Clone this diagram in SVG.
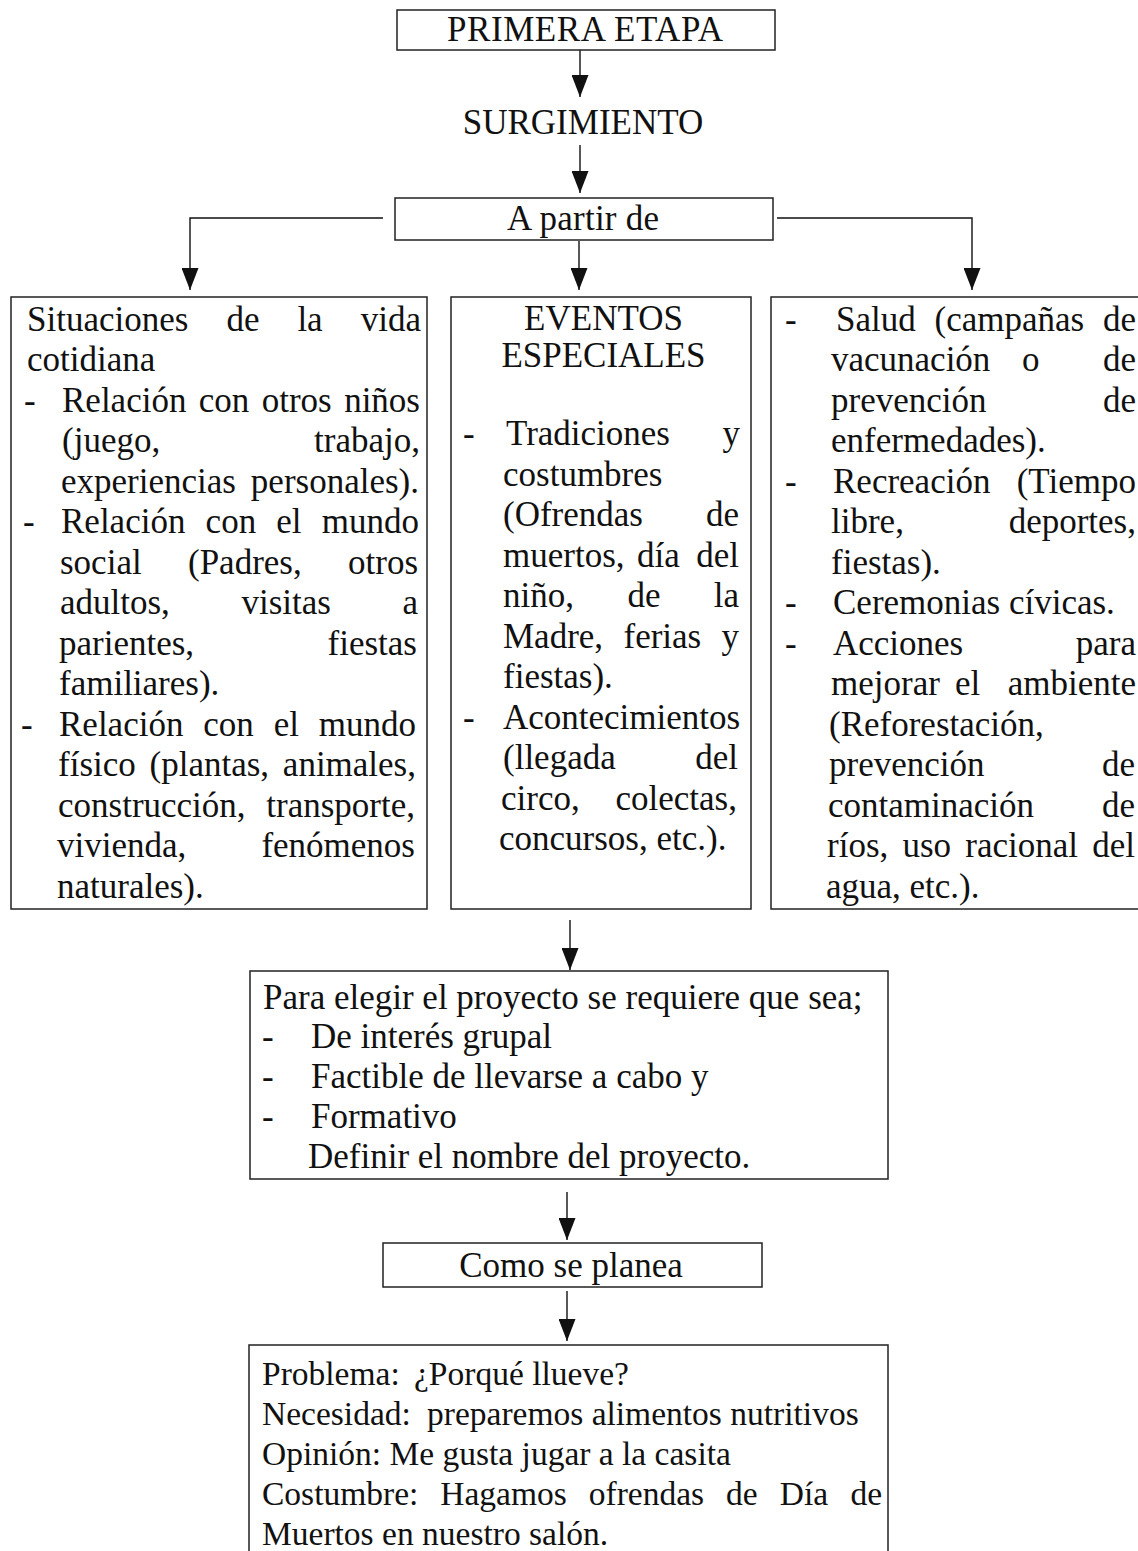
<svg xmlns="http://www.w3.org/2000/svg" width="1138" height="1551" viewBox="0 0 1138 1551">
<style>
.t{font-family:"Liberation Serif","Times New Roman",serif;font-size:35px;fill:#111}
.s{font-size:33.5px}
.m{text-anchor:middle}
.e{text-anchor:end}
.box{fill:none;stroke:#222;stroke-width:1.5}
.c{fill:none;stroke:#111;stroke-width:1.4;marker-end:url(#ah)}
</style>
<defs>
<marker id="ah" viewBox="0 0 22 17" refX="22" refY="8.5" markerWidth="22" markerHeight="17" markerUnits="userSpaceOnUse" orient="auto">
<path d="M0,0 L22,8.5 L0,17 z" fill="#111"/>
</marker>
</defs>
<rect x="0" y="0" width="1138" height="1551" fill="#fff"/>

<g id="connectors">
<path class="c" d="M580,50 V97"/>
<path class="c" d="M580,145 V193"/>
<path class="c" d="M383,218 H190 V290"/>
<path class="c" d="M579,241 V290"/>
<path class="c" d="M777,218 H972 V290"/>
<path class="c" d="M570,920 V970"/>
<path class="c" d="M567,1192 V1240"/>
<path class="c" d="M567,1291 V1341"/>
</g>

<g id="primera-etapa">
<rect class="box" x="397" y="10" width="378" height="40"/>
<text class="t m" x="585" y="41" textLength="276" lengthAdjust="spacing">PRIMERA ETAPA</text>
</g>

<g id="surgimiento">
<text class="t m" x="583" y="134">SURGIMIENTO</text>
</g>

<g id="a-partir-de">
<rect class="box" x="395" y="198" width="378" height="42"/>
<text class="t m" x="583" y="230" textLength="152" lengthAdjust="spacing">A partir de</text>
</g>

<g id="vida-cotidiana">
<rect class="box" x="11" y="297" width="416" height="612"/>
<text class="t" y="330.5"><tspan x="27">Situaciones</tspan><tspan x="226.4">de</tspan><tspan x="297.4">la</tspan><tspan x="421" class="e">vida</tspan></text>
<text class="t" y="371" x="27">cotidiana</text>
<text class="t" y="411.5"><tspan x="24">-</tspan><tspan x="62">Relación</tspan><tspan x="198.8">con</tspan><tspan x="261.7">otros</tspan><tspan x="420" class="e">niños</tspan></text>
<text class="t" y="452"><tspan x="62">(juego,</tspan><tspan x="420" class="e">trabajo,</tspan></text>
<text class="t" y="492.5"><tspan x="61">experiencias</tspan><tspan x="419" class="e">personales).</tspan></text>
<text class="t" y="533"><tspan x="23">-</tspan><tspan x="61">Relación</tspan><tspan x="205.6">con</tspan><tspan x="276.3">el</tspan><tspan x="419" class="e">mundo</tspan></text>
<text class="t" y="573.5"><tspan x="60">social</tspan><tspan x="188">(Padres,</tspan><tspan x="418" class="e">otros</tspan></text>
<text class="t" y="614"><tspan x="60">adultos,</tspan><tspan x="241.5">visitas</tspan><tspan x="418" class="e">a</tspan></text>
<text class="t" y="654.5"><tspan x="59">parientes,</tspan><tspan x="417" class="e">fiestas</tspan></text>
<text class="t" y="695" x="59">familiares).</text>
<text class="t" y="735.5"><tspan x="21">-</tspan><tspan x="59">Relación</tspan><tspan x="203.3">con</tspan><tspan x="273.7">el</tspan><tspan x="416" class="e">mundo</tspan></text>
<text class="t" y="776"><tspan x="58">físico</tspan><tspan x="149.5">(plantas,</tspan><tspan x="416" class="e">animales,</tspan></text>
<text class="t" y="816.5"><tspan x="58">construcción,</tspan><tspan x="415" class="e">transporte,</tspan></text>
<text class="t" y="857"><tspan x="57">vivienda,</tspan><tspan x="415" class="e">fenómenos</tspan></text>
<text class="t" y="897.5" x="57">naturales).</text>
</g>

<g id="eventos-especiales">
<rect class="box" x="451" y="297" width="300" height="612"/>
<text class="t m" x="603.5" y="329.5">EVENTOS</text>
<text class="t m" x="603.5" y="367">ESPECIALES</text>
<text class="t" y="445"><tspan x="463">-</tspan><tspan x="506">Tradiciones</tspan><tspan x="740" class="e">y</tspan></text>
<text class="t" y="485.5" x="503">costumbres</text>
<text class="t" y="526"><tspan x="503">(Ofrendas</tspan><tspan x="739" class="e">de</tspan></text>
<text class="t" y="566.5"><tspan x="503">muertos,</tspan><tspan x="637">día</tspan><tspan x="739" class="e">del</tspan></text>
<text class="t" y="607"><tspan x="503">niño,</tspan><tspan x="627.4">de</tspan><tspan x="739" class="e">la</tspan></text>
<text class="t" y="647.5"><tspan x="503">Madre,</tspan><tspan x="623.5">ferias</tspan><tspan x="739" class="e">y</tspan></text>
<text class="t" y="688" x="503">fiestas).</text>
<text class="t" y="728.5"><tspan x="463">-</tspan><tspan x="503">Acontecimientos</tspan></text>
<text class="t" y="769"><tspan x="503">(llegada</tspan><tspan x="738" class="e">del</tspan></text>
<text class="t" y="809.5"><tspan x="501">circo,</tspan><tspan x="737" class="e">colectas,</tspan></text>
<text class="t" y="850" x="499">concursos, etc.).</text>
</g>

<g id="otros-eventos">
<rect class="box" x="771" y="297" width="380" height="612"/>
<text class="t" y="330.5"><tspan x="785">-</tspan><tspan x="836">Salud</tspan><tspan x="934.5">(campañas</tspan><tspan x="1136" class="e">de</tspan></text>
<text class="t" y="371"><tspan x="831">vacunación</tspan><tspan x="1022">o</tspan><tspan x="1136" class="e">de</tspan></text>
<text class="t" y="411.5"><tspan x="831">prevención</tspan><tspan x="1136" class="e">de</tspan></text>
<text class="t" y="452" x="831">enfermedades).</text>
<text class="t" y="492.5"><tspan x="785">-</tspan><tspan x="833">Recreación</tspan><tspan x="1136" class="e">(Tiempo</tspan></text>
<text class="t" y="533"><tspan x="831">libre,</tspan><tspan x="1136" class="e">deportes,</tspan></text>
<text class="t" y="573.5" x="831">fiestas).</text>
<text class="t" y="614"><tspan x="785">-</tspan><tspan x="833">Ceremonias cívicas.</tspan></text>
<text class="t" y="654.5"><tspan x="785">-</tspan><tspan x="833">Acciones</tspan><tspan x="1136" class="e">para</tspan></text>
<text class="t" y="695"><tspan x="831">mejorar</tspan><tspan x="955">el</tspan><tspan x="1136" class="e">ambiente</tspan></text>
<text class="t" y="735.5" x="829">(Reforestación,</text>
<text class="t" y="776"><tspan x="829">prevención</tspan><tspan x="1135" class="e">de</tspan></text>
<text class="t" y="816.5"><tspan x="828">contaminación</tspan><tspan x="1135" class="e">de</tspan></text>
<text class="t" y="857"><tspan x="827">ríos,</tspan><tspan x="902.5">uso</tspan><tspan x="965.3">racional</tspan><tspan x="1135" class="e">del</tspan></text>
<text class="t" y="897.5" x="826">agua, etc.).</text>
</g>

<g id="elegir-proyecto">
<rect class="box" x="250" y="971" width="638" height="208"/>
<text class="t" y="1009" x="263">Para elegir el proyecto se requiere que sea;</text>
<text class="t" y="1048"><tspan x="262">-</tspan><tspan x="311">De interés grupal</tspan></text>
<text class="t" y="1088"><tspan x="262">-</tspan><tspan x="311">Factible de llevarse a cabo y</tspan></text>
<text class="t" y="1128"><tspan x="262">-</tspan><tspan x="311">Formativo</tspan></text>
<text class="t" y="1168" x="308">Definir el nombre del proyecto.</text>
</g>

<g id="como-se-planea">
<rect class="box" x="383" y="1243" width="379" height="44"/>
<text class="t m" x="571" y="1277">Como se planea</text>
</g>

<g id="ejemplos">
<rect class="box" x="249" y="1345" width="639" height="230"/>
<text class="t s" y="1385"><tspan x="262">Problema:</tspan><tspan x="414">¿Porqué llueve?</tspan></text>
<text class="t s" y="1425"><tspan x="262">Necesidad:</tspan><tspan x="427">preparemos alimentos nutritivos</tspan></text>
<text class="t s" y="1465" x="262">Opinión: Me gusta jugar a la casita</text>
<text class="t s" y="1505"><tspan x="262">Costumbre:</tspan><tspan x="440.3">Hagamos</tspan><tspan x="588.8">ofrendas</tspan><tspan x="726.1">de</tspan><tspan x="779.7">Día</tspan><tspan x="882" class="e">de</tspan></text>
<text class="t s" y="1545" x="262">Muertos en nuestro salón.</text>
</g>
</svg>
